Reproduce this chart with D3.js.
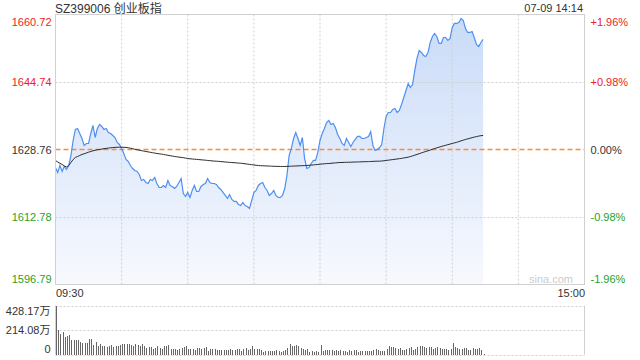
<!DOCTYPE html>
<html>
<head>
<meta charset="utf-8">
<script src="https://cdn.jsdelivr.net/npm/d3@7"></script>
<style>
body { margin: 0; background: #fff; }
svg { display: block; font-family: Arial, "Liberation Sans", "Noto Sans CJK SC", sans-serif; }
</style>
</head>
<body>
<svg id="chart" width="640" height="360"></svg>
<script>
const title = "SZ399006 创业板指";
const stamp = "07-09 14:14";
const prevClose = 1628.76;
const priceTicks = [1660.72, 1644.74, 1628.76, 1612.78, 1596.79];
const pctTicks = ["+1.96%", "+0.98%", "0.00%", "-0.98%", "-1.96%"];
const timeLabels = ["09:30", "15:00"];
const volTicks = [428.17, 214.08, 0];
const volLabels = ["428.17万", "214.08万", "0"];

// one value per minute from 09:30
const price = [
    1624.50, 1623.31, 1624.97, 1623.55, 1624.73, 1624.02, 1624.97, 1627.34, 1630.89, 1633.50,
    1633.73, 1632.55, 1631.36, 1629.71, 1630.18, 1630.18, 1632.55, 1634.44, 1631.60, 1633.73,
    1634.68, 1634.21, 1633.50, 1633.73, 1632.79, 1632.55, 1632.08, 1631.60, 1630.42, 1629.94,
    1629.00, 1627.81, 1626.39, 1625.92, 1624.97, 1624.26, 1623.79, 1623.55, 1622.84, 1621.42,
    1621.66, 1620.95, 1620.71, 1621.66, 1621.42, 1622.13, 1620.71, 1619.76, 1619.76, 1620.24,
    1619.76, 1621.42, 1620.24, 1620.00, 1619.52, 1620.00, 1620.95, 1621.89, 1618.34, 1617.63,
    1618.58, 1617.39, 1619.05, 1620.24, 1618.81, 1618.81, 1620.00, 1620.47, 1620.71, 1621.89,
    1620.95, 1620.71, 1620.71, 1620.47, 1619.76, 1619.29, 1618.58, 1617.87, 1617.16, 1618.10,
    1616.92, 1616.45, 1616.45, 1615.74, 1615.50, 1616.21, 1615.50, 1615.26, 1614.79, 1616.68,
    1618.58, 1619.05, 1620.24, 1620.71, 1620.95, 1619.76, 1619.05, 1617.87, 1618.34, 1619.05,
    1617.87, 1617.39, 1617.39, 1617.87, 1619.52, 1622.60, 1627.34, 1629.00, 1631.36, 1632.79,
    1631.36, 1629.71, 1631.60, 1626.63, 1624.26, 1624.50, 1625.44, 1626.16, 1626.16, 1628.05,
    1630.89, 1632.55, 1633.73, 1635.15, 1635.63, 1634.68, 1634.92, 1633.97, 1632.31, 1631.36,
    1630.18, 1629.71, 1631.36, 1630.42, 1629.47, 1630.42, 1631.13, 1631.84, 1631.84, 1631.36,
    1631.36, 1631.60, 1631.84, 1633.02, 1629.71, 1628.52, 1628.76, 1629.23, 1629.94, 1633.73,
    1636.57, 1637.52, 1637.52, 1638.23, 1638.47, 1637.52, 1638.00, 1639.42, 1641.07, 1642.73,
    1644.39, 1643.44, 1644.15, 1647.47, 1650.31, 1652.20, 1651.73, 1651.02, 1650.78, 1651.73,
    1654.10, 1655.52, 1656.23, 1655.52, 1653.86, 1653.86, 1655.28, 1655.28, 1654.57, 1655.04,
    1657.65, 1658.60, 1658.60, 1658.83, 1659.78, 1659.31, 1657.41, 1656.47, 1656.47, 1656.70,
    1655.28, 1653.62, 1653.15, 1654.10, 1654.81
];

// average price, as points from previous close
const avgChange = [
    -2.60, -2.96, -3.27, -3.55, -3.91, -4.14, -3.79, -3.08, -2.37, -1.89,
    -1.66, -1.42, -1.18, -1.02, -0.83, -0.64, -0.47, -0.31, -0.19, -0.07,
    0.00, 0.09, 0.19, 0.26, 0.33, 0.40, 0.45, 0.50, 0.52, 0.54,
    0.54, 0.52, 0.47, 0.40, 0.31, 0.19, 0.05, -0.07, -0.19, -0.28,
    -0.38, -0.47, -0.57, -0.66, -0.76, -0.85, -0.95, -1.02, -1.09, -1.18,
    -1.28, -1.37, -1.47, -1.56, -1.66, -1.73, -1.80, -1.87, -1.94, -2.04,
    -2.13, -2.20, -2.25, -2.30, -2.34, -2.39, -2.44, -2.49, -2.53, -2.60,
    -2.65, -2.70, -2.75, -2.77, -2.82, -2.87, -2.91, -2.96, -3.01, -3.05,
    -3.08, -3.13, -3.17, -3.22, -3.24, -3.32, -3.39, -3.46, -3.53, -3.60,
    -3.67, -3.74, -3.79, -3.84, -3.86, -3.88, -3.91, -3.93, -3.95, -3.98,
    -4.00, -4.00, -4.03, -4.03, -4.03, -4.00, -3.98, -3.95, -3.93, -3.91,
    -3.88, -3.86, -3.84, -3.81, -3.79, -3.74, -3.69, -3.65, -3.60, -3.55,
    -3.48, -3.43, -3.39, -3.34, -3.32, -3.27, -3.22, -3.17, -3.13, -3.08,
    -3.08, -3.05, -3.03, -3.03, -3.01, -2.98, -2.96, -2.96, -2.94, -2.91,
    -2.89, -2.89, -2.87, -2.84, -2.82, -2.79, -2.77, -2.77, -2.72, -2.68,
    -2.60, -2.53, -2.46, -2.39, -2.32, -2.25, -2.18, -2.11, -2.01, -1.92,
    -1.82, -1.68, -1.52, -1.35, -1.18, -0.99, -0.81, -0.64, -0.47, -0.31,
    -0.14, 0.05, 0.21, 0.38, 0.54, 0.71, 0.85, 0.99, 1.14, 1.28,
    1.42, 1.56, 1.70, 1.87, 2.04, 2.20, 2.37, 2.51, 2.65, 2.79,
    2.94, 3.05, 3.17, 3.27, 3.32
];

// volume per minute, in 万
const volume = [
    428, 215, 180, 196, 157, 164, 170, 125, 130, 124,
    128, 113, 104, 104, 104, 139, 138, 87, 108, 70,
    88, 76, 78, 62, 72, 80, 64, 78, 76, 87,
    96, 96, 92, 90, 86, 70, 90, 82, 75, 88,
    74, 56, 62, 64, 46, 58, 78, 55, 50, 72,
    76, 82, 46, 46, 50, 40, 48, 58, 62, 70,
    44, 44, 46, 36, 56, 54, 48, 56, 64, 34,
    50, 44, 46, 40, 42, 40, 38, 36, 40, 44,
    40, 40, 46, 48, 34, 50, 54, 38, 46, 78,
    48, 52, 48, 40, 24, 30, 28, 32, 28, 30,
    36, 30, 22, 28, 38, 54, 96, 74, 74, 84,
    78, 54, 52, 42, 48, 22, 30, 20, 30, 24,
    84, 34, 38, 36, 40, 40, 28, 40, 34, 40,
    28, 30, 22, 38, 30, 40, 40, 22, 28, 32,
    32, 30, 34, 34, 38, 46, 36, 28, 28, 28,
    50, 74, 68, 68, 54, 50, 58, 40, 38, 52,
    60, 62, 42, 48, 66, 72, 78, 64, 56, 66,
    64, 50, 60, 62, 56, 46, 52, 44, 36, 48,
    104, 62, 60, 44, 52, 56, 54, 40, 38, 60,
    50, 44, 56, 40, 8
];

let plotLeft = 55.5, plotRight = 584.5, plotTop = 14.5, plotBottom = 284.5;
let volTop = 305.5, volBottom = 354.5;

let red = "#f0211d", green = "#1f9f1f", dark = "#333";
let labelColor = (i, n) => i < (n - 1) / 2 ? red : (i > (n - 1) / 2 ? green : dark);

let svg = d3.select("#chart");

let x = d3.scaleLinear().domain([0, 240]).range([plotLeft, plotRight]);
let y = d3.scaleLinear().domain([priceTicks[4], priceTicks[0]]).range([plotBottom, plotTop]);
let yv = d3.scaleLinear().domain([0, volTicks[0]]).range([volBottom, volTop]);

//gradient for the area
let grad = svg.append("defs").append("linearGradient")
    .attr("id", "fillGrad")
    .attr("gradientUnits", "userSpaceOnUse")
    .attr("x1", 0).attr("y1", plotTop).attr("x2", 0).attr("y2", plotBottom);
grad.append("stop").attr("offset", "0%").attr("stop-color", "#c9dbf8");
grad.append("stop").attr("offset", "100%").attr("stop-color", "#f7f9fe");

//draw area
let area = d3.area()
    .x((d, i) => x(i))
    .y0(plotBottom)
    .y1(d => y(d));
svg.append("path")
    .datum(price)
    .attr("d", area)
    .attr("fill", "url(#fillGrad)");

//vertical grid
svg.append("g").selectAll("line")
    .data(d3.range(30, 240, 30))
    .enter().append("line")
    .attr("x1", d => x(d)).attr("x2", d => x(d))
    .attr("y1", plotTop).attr("y2", plotBottom)
    .attr("stroke", "#cfcfcf")
    .attr("stroke-dasharray", "2,2");

//horizontal grid
svg.append("g").selectAll("line")
    .data([priceTicks[1], priceTicks[3]])
    .enter().append("line")
    .attr("x1", plotLeft).attr("x2", plotRight)
    .attr("y1", d => Math.round(y(d)) + 0.5).attr("y2", d => Math.round(y(d)) + 0.5)
    .attr("stroke", "#cfcfcf")
    .attr("stroke-dasharray", "2,2");

//previous close line
svg.append("line")
    .attr("x1", plotLeft).attr("x2", plotRight)
    .attr("y1", Math.round(y(prevClose)) + 0.5).attr("y2", Math.round(y(prevClose)) + 0.5)
    .style("stroke", "#ff8a33")
    .style("stroke-width", 1.3)
    .style("stroke-dasharray", "5,3");

//price line
let line = d3.line()
    .x((d, i) => x(i))
    .y(d => y(d));
svg.append("path")
    .datum(price)
    .attr("d", line)
    .attr("fill", "none")
    .attr("stroke", "#4f8ff0")
    .attr("stroke-width", 1.2);

//average line
svg.append("path")
    .datum(avgChange.map(d => prevClose + d))
    .attr("d", line)
    .attr("fill", "none")
    .attr("stroke", "#2b2b2b")
    .attr("stroke-width", 1);

//border
svg.append("rect")
    .attr("x", plotLeft).attr("y", plotTop)
    .attr("width", plotRight - plotLeft).attr("height", plotBottom - plotTop)
    .attr("fill", "none")
    .attr("stroke", "#d0d0d0");

//watermark
svg.append("text")
    .attr("x", 573).attr("y", 283)
    .attr("text-anchor", "end")
    .attr("font-size", 11)
    .attr("fill", "#cccccc")
    .text("sina.com");

//left axis
let yAxisL = d3.axisLeft(y).tickValues(priceTicks).tickSize(0).tickPadding(4)
    .tickFormat(d3.format(".2f"));
let gL = svg.append("g").attr("transform", "translate(" + plotLeft + ",0)").call(yAxisL);
gL.select(".domain").remove();
gL.attr("font-family", null).attr("font-size", 11);
gL.selectAll("text")
    .attr("fill", (d, i) => labelColor(i, priceTicks.length))
    .attr("y", (d, i) => i == 0 ? 7 : (i == priceTicks.length - 1 ? -6 : 0));

//right axis
let yAxisR = d3.axisRight(y).tickValues(priceTicks).tickSize(0).tickPadding(6)
    .tickFormat((d, i) => pctTicks[i]);
let gR = svg.append("g").attr("transform", "translate(" + plotRight + ",0)").call(yAxisR);
gR.select(".domain").remove();
gR.attr("font-family", null).attr("font-size", 11);
gR.selectAll("text")
    .attr("fill", (d, i) => labelColor(i, priceTicks.length))
    .attr("y", (d, i) => i == 0 ? 7 : (i == priceTicks.length - 1 ? -6 : 0));

//time axis
let xAxis = d3.axisBottom(x).tickValues([0, 240]).tickSize(0).tickPadding(5)
    .tickFormat((d, i) => timeLabels[i]);
let gX = svg.append("g").attr("transform", "translate(0," + plotBottom + ")").call(xAxis);
gX.select(".domain").remove();
gX.attr("font-family", null).attr("font-size", 11);
gX.selectAll("text")
    .attr("fill", dark)
    .attr("text-anchor", (d, i) => i == 0 ? "start" : "end");

//volume grid
svg.append("g").selectAll("line")
    .data(volTicks)
    .enter().append("line")
    .attr("x1", plotLeft).attr("x2", plotRight)
    .attr("y1", d => Math.round(yv(d)) + 0.5)
    .attr("y2", d => Math.round(yv(d)) + 0.5)
    .attr("stroke", "#cfcfcf")
    .attr("stroke-dasharray", "2,2");
svg.append("g").selectAll("line")
    .data([plotLeft, plotRight])
    .enter().append("line")
    .attr("x1", d => d).attr("x2", d => d)
    .attr("y1", volTop).attr("y2", volBottom)
    .attr("stroke", "#d0d0d0");

//volume bars
svg.append("g").selectAll("rect")
    .data(volume)
    .enter().append("rect")
    .attr("x", (d, i) => Math.floor(x(i)) + 1)
    .attr("y", d => yv(d))
    .attr("width", 1)
    .attr("height", d => volBottom - yv(d))
    .attr("fill", "#666666")
    .attr("shape-rendering", "crispEdges");

//volume axis
let vAxis = d3.axisLeft(yv).tickValues(volTicks).tickSize(0).tickPadding(5)
    .tickFormat((d, i) => volLabels[i]);
let gV = svg.append("g").attr("transform", "translate(" + plotLeft + ",0)").call(vAxis);
gV.select(".domain").remove();
gV.attr("font-family", null).attr("font-size", 11);
gV.selectAll("text")
    .attr("fill", dark)
    .attr("y", (d, i) => i == 0 ? 5 : (i == volTicks.length - 1 ? -6 : 0));

//title and time stamp
svg.append("text")
    .attr("x", 55).attr("y", 13)
    .attr("font-size", 12)
    .attr("fill", dark)
    .text(title);
svg.append("text")
    .attr("x", 583).attr("y", 12)
    .attr("text-anchor", "end")
    .attr("font-size", 11)
    .attr("fill", dark)
    .text(stamp);
</script>
</body>
</html>
